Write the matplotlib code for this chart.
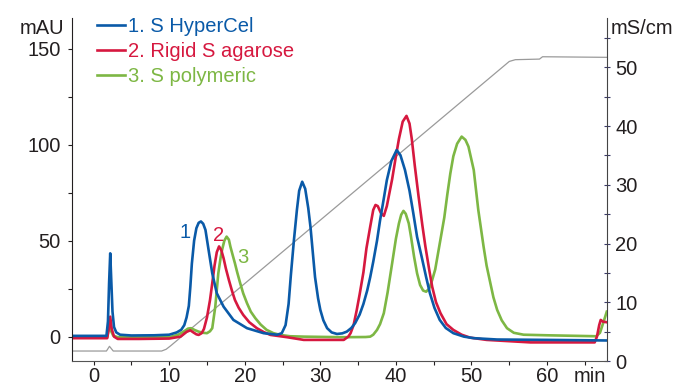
import matplotlib
matplotlib.use("Agg")
import matplotlib.pyplot as plt
from matplotlib.ticker import MultipleLocator

plt.rcParams['font.family'] = ['Liberation Sans', 'DejaVu Sans']

# chromatogram traces (time in min, signal in mAU)
blue_t = [-2.9, 1.7, 1.9, 2.05, 2.2, 2.35, 2.5, 2.7, 3.0, 3.5, 5, 8, 10, 11, 11.6, 12.0, 12.3, 12.6, 12.8,
          13.0, 13.3, 13.6, 13.9, 14.2, 14.5, 14.8, 15.2, 15.7, 16.3, 17.2, 18.5, 20.3, 22.5, 24.3, 24.9,
          25.4, 25.8, 26.1, 26.5, 26.9, 27.2, 27.6, 28.0, 28.4, 28.7, 29.0, 29.3, 29.7, 30.0, 30.4, 30.9,
          31.5, 32.2, 32.9, 33.5, 34.1, 34.6, 35.2, 35.7, 36.2, 36.6, 37.0, 37.5, 37.9, 38.4, 38.8, 39.4,
          40.1, 40.6, 41.2, 41.8, 42.3, 42.8, 43.4, 44.0, 44.5, 45.1, 45.8, 46.6, 47.6, 49.0, 50.3, 53.4,
          60, 67.9]
blue_y = [0.4, 0.4, 8, 28, 43.4, 28, 13, 5, 2.2, 1.0, 0.6, 0.7, 1.0, 2.2, 3.6, 6, 10, 16, 26,
          38, 50, 56.5, 59.3, 60, 58.8, 55.6, 45.5, 33, 22.6, 15.6, 8.7, 4.4, 1.8, 1.0, 1.8,
          6, 17, 32, 50, 66, 76, 80.7, 77, 67, 57, 44, 31, 20, 13.9, 8.5, 4.4,
          2.2, 1.4, 1.7, 2.6, 4.5, 7, 11.5, 17, 24, 31, 39, 50, 60.5, 72, 81.5, 91.5,
          97.2, 94.5, 86.8, 76, 64.3, 52, 41.7, 31, 22.6, 15, 8.7, 4.5, 1.8, 0, -0.8, -1.5,
          -1.7, -2.0]

red_t = [-2.9, 1.8, 2.0, 2.2, 2.4, 2.7, 3.2, 6, 10, 11.5, 12.3, 12.8, 13.2, 13.6, 13.9, 14.3, 14.6,
         15.0, 15.4, 15.7, 16.0, 16.3, 16.6, 16.9, 17.2, 17.5, 17.9, 18.3, 18.7, 19.2, 19.8, 20.6, 21.6,
         22.5, 23.4, 25.6, 27.8, 33.1, 33.7, 34.0, 34.4, 34.8, 35.2, 35.7, 36.1, 36.6, 37.0, 37.3, 37.6,
         38.0, 38.4, 38.8, 39.2, 39.5, 40.0, 40.4, 40.9, 41.4, 41.8, 42.1, 42.5, 43.0, 43.5, 43.9, 44.4,
         44.8, 45.3, 45.9, 46.7, 47.6, 48.7, 49.8, 52, 57.8, 66.3, 66.6, 66.9, 67.1, 67.4, 67.9]
red_y = [-0.8, -0.8, 4, 10.4, 4, 0, -1.2, -1.2, -1.0, 0, 2.5, 3.3, 2.2, 1.2, 0.9, 1.8, 4,
         10, 19, 27.8, 37, 44, 47, 45, 40.8, 35.5, 29.5, 24, 19.1, 15, 11.3, 7.5, 4.4,
         2.4, 0.9, -0.3, -1.7, -1.7, 0, 1.8, 6, 13.5, 22, 33.5, 46, 57.3, 66, 68.6, 68,
         64.5, 62.9, 68, 76, 82, 94, 103, 112, 115, 111, 103, 89, 73, 58, 47, 35,
         26, 18, 12.2, 6.5, 3.5, 1, -0.5, -1.7, -3.0, -3.0, 0, 6, 8.7, 7.8, 7.5]

green_t = [-2.9, 1.8, 2.0, 2.1, 2.3, 2.6, 3.2, 10, 11.2, 11.9, 12.5, 12.9, 13.4, 13.9, 14.5, 15.0, 15.4,
           15.7, 16.1, 16.5, 16.8, 17.0, 17.3, 17.6, 17.9, 18.1, 18.4, 18.7, 19.0, 19.4, 19.8, 20.3, 20.8,
           21.4, 22.1, 22.9, 23.8, 24.7, 26, 27.8, 33, 36.0, 36.6, 37.0, 37.5, 37.9, 38.4, 38.9, 39.5,
           40.0, 40.4, 40.7, 41.0, 41.3, 41.7, 42.0, 42.4, 42.8, 43.2, 43.6, 44.0, 44.4, 44.8, 45.2, 45.6,
           46.0, 46.4, 46.8, 47.2, 47.6, 48.1, 48.7, 49.2, 49.6, 50.3, 50.9, 51.6, 52.0, 52.5, 52.9, 53.4,
           54.0, 54.7, 55.6, 56.9, 60, 64, 66.5, 67.0, 67.5, 67.9]
green_y = [-0.3, -0.3, 4, 7, 3, 0.5, -0.3, -0.3, 1.0, 2.6, 4.2, 4.4, 3.4, 2.6, 2.0, 1.8, 2.8,
           4.4, 15.6, 33, 41, 45.2, 50, 52.1, 50.5, 46.9, 42.5, 38.2, 33.5, 27.8, 22.5, 17.4, 13,
           9.6, 6.3, 3.5, 1.8, 0.9, 0.2, 0, -0.3, -0.2, 0, 1, 3.5, 6.5, 12.2, 23, 38.2,
           51, 59, 63.5, 65.5, 64, 59, 52, 41.7, 33, 26.9, 24, 23.4, 25, 29.5, 35, 44,
           53, 62, 74, 85, 94, 100.5, 104.2, 102.5, 99, 86.8, 66, 46.9, 37, 27.8, 20.5, 13.9,
           8.5, 4.4, 2.0, 1.0, 0.7, 0.4, 0.2, 2, 8, 13]

# conductivity (mS/cm)
cond_t = [-2.9, 1.7, 2.1, 2.6, 9.0, 9.6, 10.2, 55.0, 55.8, 59.0, 59.4, 67.9]
cond_y = [1.7, 1.7, 2.5, 1.7, 1.7, 2.0, 2.6, 51.0, 51.3, 51.4, 51.8, 51.7]

series_names = ["1. S HyperCel", "2. Rigid S agarose", "3. S polymeric"]
colors = ["#0a5aa8", "#d6183f", "#7db744"]
peak_labels = ["1", "2", "3"]
peak_label_pos = [(12.1, 54), (16.5, 52.5), (19.7, 41)]

ink = "#231f20"
fs = 14.5

fig = plt.figure(figsize=(6.86, 3.85), dpi=100)
ax = fig.add_axes([0.1045, 0.0623, 0.780, 0.891])
ax2 = ax.twinx()

ax2.plot(cond_t, cond_y, color="#9a9a9a", lw=0.9)
ax2.set_ylim(0, 58.4)
ax.set_zorder(ax2.get_zorder() + 1)
ax.patch.set_visible(False)

lines = {}
for i in (2, 1, 0):
    t, y = [(blue_t, blue_y), (red_t, red_y), (green_t, green_y)][i]
    lines[i], = ax.plot(t, y, color=colors[i], lw=1.9, label=series_names[i], solid_joinstyle="round")

ax.set_xlim(-2.9, 67.9)
ax.set_ylim(-12.7, 166)

for lab, (tx, ty), c in zip(peak_labels, peak_label_pos, colors):
    ax.text(tx, ty, lab, color=c, fontsize=fs, ha="center", va="center")

for a in (ax, ax2):
    a.spines["top"].set_visible(False)
ax.spines["right"].set_visible(False)
ax.spines["left"].set_color(ink)
ax.spines["bottom"].set_color("#555555")
ax2.spines["left"].set_visible(False)
ax2.spines["bottom"].set_visible(False)
ax2.spines["right"].set_color("#444444")

ax.set_xticks([0, 10, 20, 30, 40, 50, 60])
ax.xaxis.set_minor_locator(MultipleLocator(5))
ax.set_yticks([0, 50, 100, 150])
ax.yaxis.set_minor_locator(MultipleLocator(25))
ax2.set_yticks([0, 10, 20, 30, 40, 50])
ax2.yaxis.set_minor_locator(MultipleLocator(5))

ax.tick_params(axis="both", which="both", labelsize=fs, colors=ink, direction="out", length=3, width=0.8)
ax.tick_params(axis="y", pad=5)
ax.tick_params(axis="x", pad=1)
ax2.tick_params(axis="y", which="both", labelsize=fs, labelcolor=ink, color="#3a3a6a",
                direction="inout", length=4, width=0.8, pad=4)

ax.legend([lines[0], lines[1], lines[2]], series_names, loc="upper left",
          bbox_to_anchor=(97 / 686, 1 - 17 / 385), bbox_transform=fig.transFigure,
          frameon=False, fontsize=fs, handlelength=1.4, handletextpad=0.15, labelspacing=0.31,
          borderpad=0, borderaxespad=0, labelcolor="linecolor")

fig.text(64 / 686, 1 - 28 / 385, "mAU", fontsize=fs, color=ink, ha="right", va="center")
fig.text(611 / 686, 1 - 28 / 385, "mS/cm", fontsize=fs, color=ink, ha="left", va="center")
fig.text(606 / 686, 1 - 377 / 385, "min", fontsize=fs, color=ink, ha="right", va="center")

fig.savefig("out.png", dpi=100)
